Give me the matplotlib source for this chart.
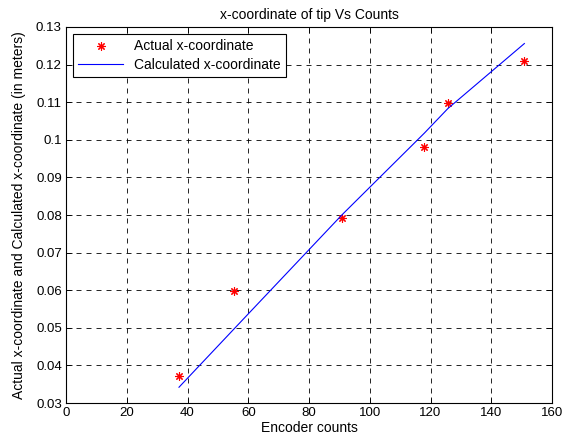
import matplotlib
matplotlib.use("Agg")
import matplotlib.pyplot as plt

plt.rcParams['font.family'] = ['Liberation Sans', 'DejaVu Sans']

counts = [37.2, 55.2, 90.8, 118.0, 125.7, 150.9]
actual_x = [0.0373, 0.0597, 0.0791, 0.0982, 0.1099, 0.1210]
calc_x = [0.0342, 0.0496, 0.0800, 0.1018, 0.1083, 0.1256]

xticks = [0, 20, 40, 60, 80, 100, 120, 140, 160]
yticks = [0.03, 0.04, 0.05, 0.06, 0.07, 0.08, 0.09, 0.1, 0.11, 0.12, 0.13]
ytick_labels = ['0.03', '0.04', '0.05', '0.06', '0.07', '0.08', '0.09', '0.1', '0.11', '0.12', '0.13']

fig = plt.figure(figsize=(5.66, 4.47), dpi=100)
ax = fig.add_axes([0.1166, 0.0984, 0.8587, 0.8412])

ax.plot(counts, actual_x, linestyle='none', marker=(8, 2, 0), markersize=6,
        markeredgecolor='red', markeredgewidth=0.8, color='red', label='Actual x-coordinate')
ax.plot(counts, calc_x, color='blue', linewidth=0.8, label='Calculated x-coordinate')

ax.set_xlim(0, 160)
ax.set_ylim(0.03, 0.13)
ax.set_xticks(xticks)
ax.set_yticks(yticks)
ax.set_yticklabels(ytick_labels)
ax.tick_params(direction='in', top=True, right=True, labelsize=9.5, length=4, width=0.6, pad=3)
ax.grid(True, color='black', linestyle=(0, (6, 6)), linewidth=0.6)
for s in ax.spines.values():
    s.set_linewidth(0.8)

ax.set_title('x-coordinate of tip Vs Counts', fontsize=10, pad=6)
ax.set_xlabel('Encoder counts', fontsize=10, labelpad=1)
ax.set_ylabel('Actual x-coordinate and Calculated x-coordinate (in meters)', fontsize=10, labelpad=7)

leg = ax.legend(loc='upper left', fontsize=10, fancybox=False, framealpha=1,
                edgecolor='black', borderaxespad=0.5, handlelength=3.2, borderpad=0.4,
                labelspacing=0.3)
leg.get_frame().set_linewidth(0.8)

fig.savefig('out.png', dpi=100)
